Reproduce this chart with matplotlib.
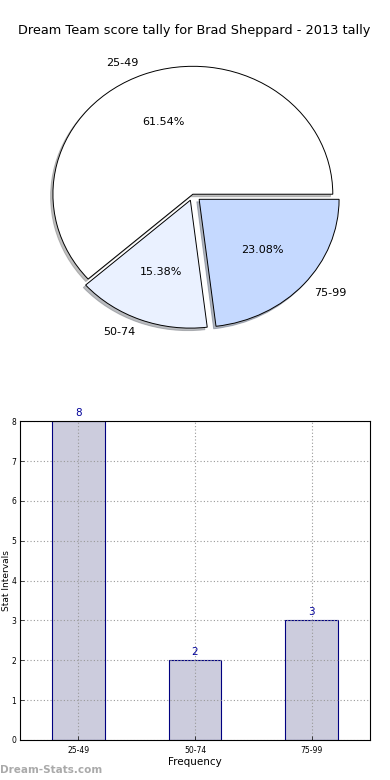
import matplotlib
matplotlib.use("Agg")
import matplotlib.pyplot as plt

# data
intervals = ["25-49", "50-74", "75-99"]
counts = [8, 2, 3]
pie_colors = ["#ffffff", "#eaf1ff", "#c5d9ff"]
explode = [0, 0.05, 0.06]

BAR_FACE = "#ccccdd"
BAR_EDGE = "#000080"

fig = plt.figure(figsize=(3.9, 7.8), dpi=100, facecolor="white")

# pie
ax1 = fig.add_axes([0.046, 0.546, 0.897, 0.41])
wedges, texts, autotexts = ax1.pie(
    counts, labels=intervals, colors=pie_colors, explode=explode,
    autopct="%1.2f%%", startangle=0,
    shadow={"ox": -0.012, "oy": -0.014, "shade": 0.5},
    wedgeprops={"edgecolor": "black", "linewidth": 0.7},
    textprops={"fontsize": 8},
)
ax1.set_aspect("auto")
ax1.set_xlim(-1.25, 1.25)
ax1.set_ylim(-1.25, 1.25)
fig.text(0.497, 0.961, "Dream Team score tally for Brad Sheppard - 2013 tally",
         ha="center", va="center", fontsize=9.3)

# bars
ax2 = fig.add_axes([0.051, 0.0513, 0.898, 0.4087])
x = range(len(intervals))
ax2.bar(x, counts, width=0.45, color=BAR_FACE, edgecolor=BAR_EDGE, linewidth=0.8, zorder=2)
for i, v in zip(x, counts):
    ax2.text(i, v + 0.08, str(v), ha="center", va="bottom", fontsize=7.5, color="#000099")
ax2.set_xlim(-0.5, 2.5)
ax2.set_ylim(0, 8)
ax2.set_xticks(list(x))
ax2.set_xticklabels(intervals)
ax2.tick_params(labelsize=5.5, length=3, width=0.5, direction="in")
ax2.tick_params(axis="y", pad=2.5)
ax2.tick_params(axis="x", pad=4)
ax2.grid(True, linestyle=(0, (1, 2)), color="#999999", linewidth=0.8, zorder=3)
ax2.set_axisbelow(False)
for sp in ax2.spines.values():
    sp.set_zorder(5)
ax2.set_xlabel("Frequency", fontsize=7.5, labelpad=2)
ax2.set_ylabel("Stat Intervals", fontsize=6.5)
ax2.yaxis.set_label_coords(-0.024, 0.5)

fig.text(0.0, 0.013, "Dream-Stats.com", fontsize=7.5, color="#aaaaaa",
         fontweight="bold", ha="left", va="center")

fig.savefig("out.png", dpi=100, facecolor="white")
